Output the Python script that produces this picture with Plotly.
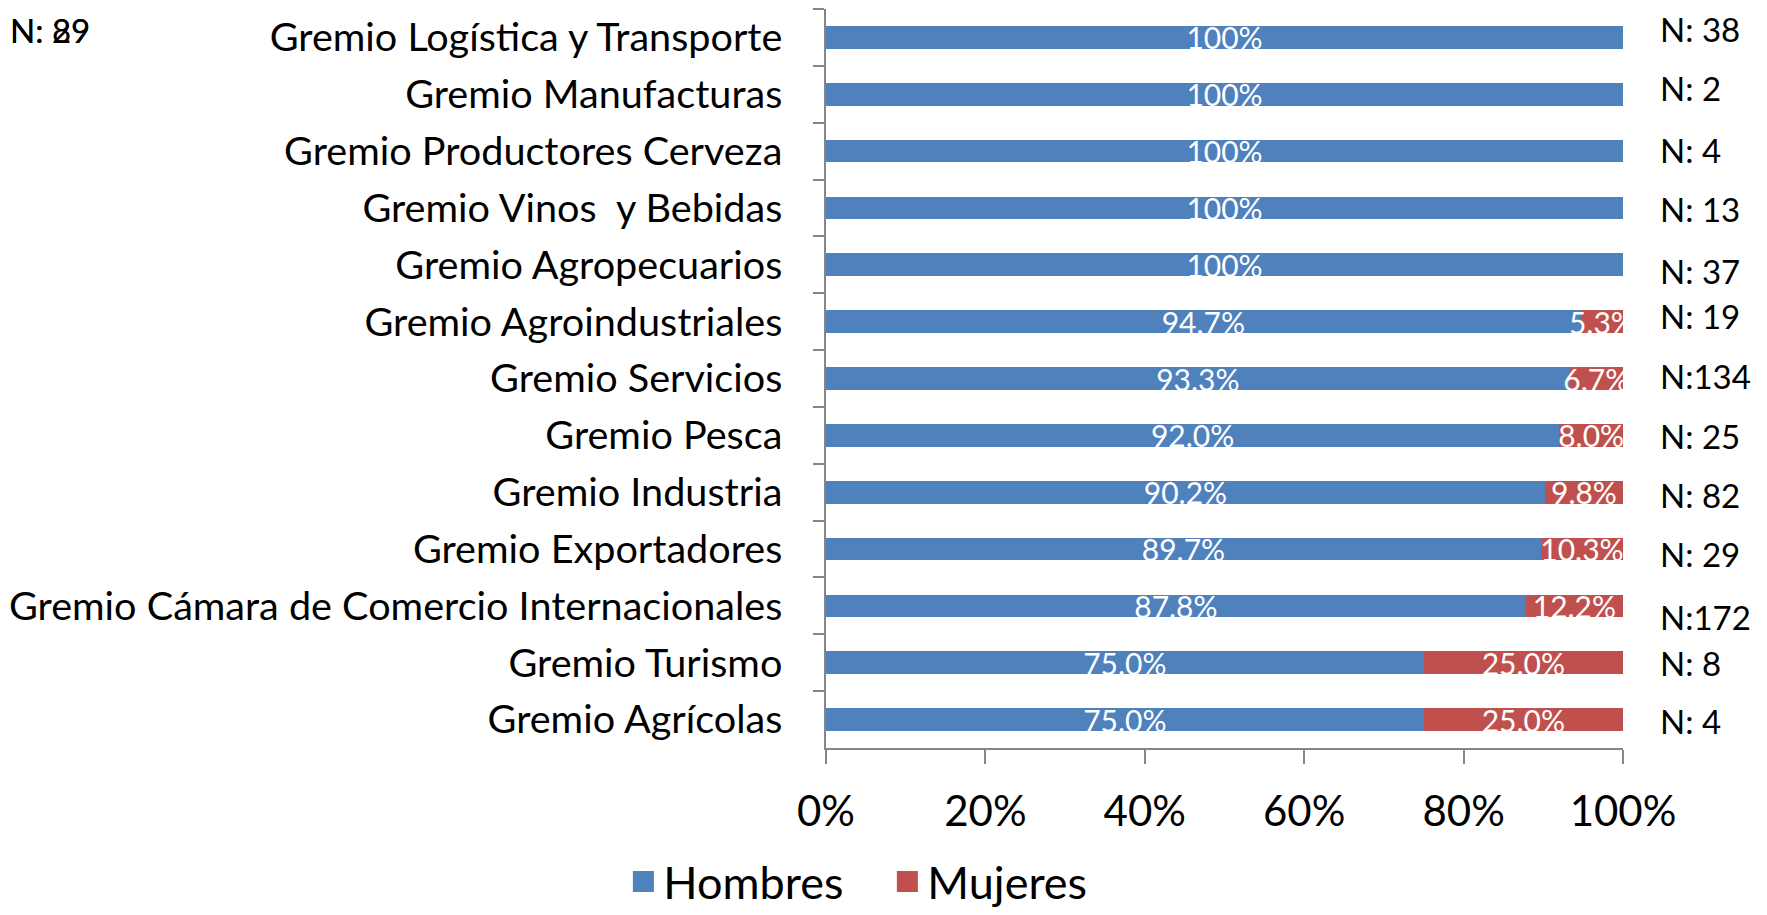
import plotly.graph_objects as go

# datos: porcentaje por sexo en cada gremio (de arriba hacia abajo)
gremios = [
    "Gremio Logística y Transporte",
    "Gremio Manufacturas",
    "Gremio Productores Cerveza",
    "Gremio Vinos\u00a0 y Bebidas",
    "Gremio Agropecuarios",
    "Gremio Agroindustriales",
    "Gremio Servicios",
    "Gremio Pesca",
    "Gremio Industria",
    "Gremio Exportadores",
    "Gremio Cámara de Comercio Internacionales",
    "Gremio Turismo",
    "Gremio Agrícolas",
]
hombres = [100, 100, 100, 100, 100, 94.7, 93.3, 92.0, 90.2, 89.7, 87.8, 75.0, 75.0]
mujeres = [0, 0, 0, 0, 0, 5.3, 6.7, 8.0, 9.8, 10.3, 12.2, 25.0, 25.0]
n_casos = [38, 2, 4, 13, 37, 19, 134, 25, 82, 29, 172, 8, 4]
n_sueltos = ["N: 29", "N: 89"]
ticks_x = [0, 20, 40, 60, 80, 100]

AZUL = "#4F81BD"
ROJO = "#C0504D"
GRIS = "#868686"
FUENTE = "Lato, 'Open Sans', sans-serif"

# la página html deja 8px de margen en el body: la figura se achica para caber
ANCHO, ALTO = 1767 - 16, 915 - 16
M_IZQ, M_DER, M_SUP, M_INF = 818, 136, 1, 159
ANCHO_PLOT = ANCHO - M_IZQ - M_DER
ALTO_PLOT = ALTO - M_SUP - M_INF


def etiqueta(v):
    if v == 0:
        return ""
    if v == 100:
        return "100%"
    return f"{v:.1f}%"


def etiqueta_n(n):
    return f"N: {n}" if n < 100 else f"N:{n}"


fig = go.Figure()
for nombre, vals, color in [("Hombres", hombres, AZUL), ("Mujeres", mujeres, ROJO)]:
    fig.add_trace(go.Bar(
        y=gremios, x=[v / 100 for v in vals], orientation="h", name=nombre,
        marker=dict(color=color, line=dict(width=0)),
        text=[etiqueta(v) for v in vals], textposition="inside",
        insidetextanchor="middle", textangle=0, constraintext="none",
        textfont=dict(color="white", size=30, family=FUENTE),
        showlegend=False, hoverinfo="skip",
    ))
    # entrada de leyenda con cuadrado grande
    fig.add_trace(go.Scatter(
        x=[None], y=[None], mode="markers", name=nombre,
        marker=dict(symbol="square", size=25, color=color,
                    line=dict(color=color, width=5)),
    ))

# desplazamientos verticales de las etiquetas N (como en el original)
desp = [8, 6, 1, -1, -6, 6, 3, -1, -3, -5, -11, 0, -1]
for g, n, d in zip(gremios, n_casos, desp):
    fig.add_annotation(
        x=1.044, xref="paper", y=g, yref="y", text=etiqueta_n(n),
        showarrow=False, xanchor="left", yshift=d,
        font=dict(size=33, color="black", family=FUENTE),
    )
# dos etiquetas superpuestas en la esquina superior izquierda
for t in n_sueltos:
    fig.add_annotation(
        x=-M_IZQ / ANCHO_PLOT, xref="paper", y=1 + M_SUP / ALTO_PLOT, yref="paper",
        text=t, showarrow=False, xanchor="left", yanchor="top",
        font=dict(size=33, color="black", family=FUENTE),
    )

fig.update_layout(
    barmode="stack",
    bargap=0.6,
    width=ANCHO, height=ALTO,
    margin=dict(l=M_IZQ, r=M_DER, t=M_SUP, b=M_INF, autoexpand=False),
    paper_bgcolor="white", plot_bgcolor="white",
    font=dict(family=FUENTE, color="black"),
    legend=dict(
        orientation="h", x=0.077, xanchor="center", y=-0.181, yanchor="middle",
        font=dict(size=45, family=FUENTE), itemsizing="trace",
        entrywidth=219, entrywidthmode="pixels", traceorder="normal",
    ),
)
fig.update_xaxes(
    range=[0, 1], tickvals=[v / 100 for v in ticks_x],
    ticktext=[f"{v}%" for v in ticks_x],
    showgrid=False, zeroline=False, showline=True, linecolor=GRIS, linewidth=1.5,
    ticks="outside", ticklen=14, tickcolor=GRIS, tickwidth=1.5,
    ticklabelstandoff=12, tickfont=dict(size=42, family=FUENTE),
)
fig.update_yaxes(
    autorange="reversed", showgrid=False, showline=True, linecolor=GRIS,
    linewidth=1.5, ticks="outside", ticklen=11, tickcolor=GRIS, tickwidth=1.5,
    tickson="boundaries", ticklabelstandoff=34,
    tickfont=dict(size=39.6, family=FUENTE),
)

fig.write_html("out.html")
